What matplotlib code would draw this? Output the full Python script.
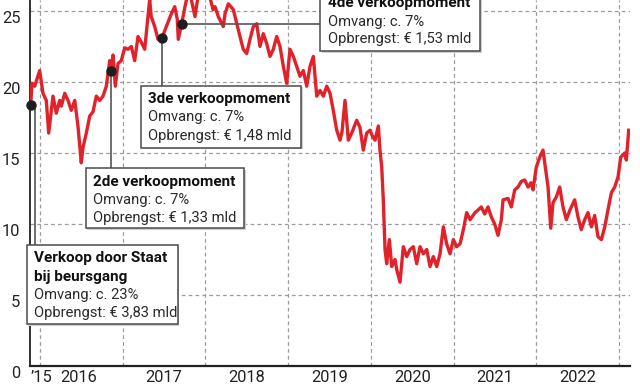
import matplotlib
matplotlib.use('Agg')
import matplotlib.pyplot as plt
from matplotlib.patches import Rectangle

plt.rcParams['font.family'] = ['Roboto', 'DejaVu Sans']

# ---- data (decimal year, koers in euro) ----
years = [2015.888, 2015.903, 2015.936, 2015.996, 2016.036, 2016.076, 2016.105, 2016.157,
         2016.197, 2016.238, 2016.258, 2016.299, 2016.339, 2016.378, 2016.420, 2016.459,
         2016.499, 2016.520, 2016.560, 2016.601, 2016.641, 2016.681, 2016.722, 2016.762,
         2016.802, 2016.843, 2016.862, 2016.883, 2016.911, 2016.943, 2016.983, 2017.024,
         2017.064, 2017.104, 2017.145, 2017.185, 2017.225, 2017.266, 2017.285, 2017.326,
         2017.345, 2017.387, 2017.427, 2017.475, 2017.527, 2017.588, 2017.629, 2017.660,
         2017.672, 2017.713, 2017.753, 2017.790, 2017.826, 2017.874, 2017.910, 2017.971,
         2018.031, 2018.092, 2018.116, 2018.156, 2018.216, 2018.237, 2018.277, 2018.337,
         2018.379, 2018.418, 2018.458, 2018.499, 2018.539, 2018.579, 2018.620, 2018.660,
         2018.700, 2018.741, 2018.781, 2018.821, 2018.862, 2018.902, 2018.942, 2018.983,
         2019.023, 2019.063, 2019.104, 2019.144, 2019.184, 2019.225, 2019.265, 2019.305,
         2019.346, 2019.386, 2019.426, 2019.467, 2019.507, 2019.546, 2019.588, 2019.628,
         2019.652, 2019.688, 2019.728, 2019.769, 2019.829, 2019.869, 2019.909, 2019.950,
         2019.990, 2020.027, 2020.051, 2020.091, 2020.111, 2020.132, 2020.151, 2020.172,
         2020.192, 2020.224, 2020.253, 2020.293, 2020.313, 2020.353, 2020.393, 2020.434,
         2020.474, 2020.514, 2020.555, 2020.595, 2020.635, 2020.676, 2020.716, 2020.756,
         2020.797, 2020.837, 2020.877, 2020.917, 2020.958, 2020.998, 2021.038, 2021.079,
         2021.119, 2021.159, 2021.200, 2021.260, 2021.300, 2021.336, 2021.377, 2021.417,
         2021.457, 2021.498, 2021.538, 2021.578, 2021.599, 2021.659, 2021.699, 2021.740,
         2021.780, 2021.820, 2021.861, 2021.901, 2021.937, 2021.961, 2022.001, 2022.042,
         2022.082, 2022.103, 2022.143, 2022.176, 2022.203, 2022.243, 2022.284, 2022.324,
         2022.364, 2022.409, 2022.465, 2022.505, 2022.545, 2022.586, 2022.626, 2022.667,
         2022.707, 2022.747, 2022.788, 2022.829, 2022.868, 2022.909, 2022.949, 2022.989,
         2023.022, 2023.070, 2023.090, 2023.118]
prices = [18.4, 19.9, 19.7, 20.8, 19.2, 18.7, 16.4, 19.0,
          17.8, 18.7, 18.3, 19.2, 18.7, 18.0, 18.7, 16.9,
          14.3, 15.4, 16.4, 17.6, 17.9, 19.0, 18.7, 19.0,
          19.7, 21.5, 20.8, 21.9, 19.7, 21.3, 21.5, 22.4,
          22.3, 22.5, 21.5, 23.2, 22.8, 22.3, 23.4, 25.8,
          24.6, 23.9, 23.0, 23.1, 23.9, 24.8, 25.3, 24.4,
          23.0, 24.1, 25.3, 26.3, 25.9, 24.6, 26.0, 26.6,
          26.5, 25.1, 25.3, 24.6, 23.9, 24.8, 25.5, 25.1,
          24.1, 23.2, 22.3, 22.0, 23.0, 23.9, 24.1, 22.5,
          23.4, 22.7, 21.8, 22.3, 23.2, 22.5, 21.1, 19.9,
          22.3, 21.8, 21.1, 20.4, 20.8, 19.7, 21.1, 21.8,
          19.0, 19.4, 19.0, 19.7, 19.2, 18.0, 16.6, 15.9,
          16.5, 18.7, 15.9, 16.4, 17.3, 16.8, 15.2, 16.4,
          16.6, 16.1, 15.9, 16.9, 15.2, 14.0, 11.7, 8.2,
          7.2, 8.9, 7.0, 7.5, 6.8, 5.9, 8.4, 7.7,
          8.2, 8.4, 7.2, 8.4, 7.9, 8.2, 7.0, 7.7,
          7.0, 7.9, 9.8, 8.6, 7.9, 8.9, 8.4, 8.6,
          9.6, 10.8, 10.3, 10.8, 11.0, 11.2, 10.7, 11.2,
          10.5, 10.0, 9.2, 10.3, 11.7, 11.8, 11.2, 12.4,
          12.6, 13.0, 13.1, 12.6, 12.9, 12.4, 14.0, 14.7,
          15.2, 14.3, 12.6, 9.7, 11.5, 11.9, 12.6, 11.2,
          10.3, 11.0, 11.7, 10.5, 9.6, 10.3, 10.8, 9.8,
          10.6, 9.1, 8.9, 9.8, 11.0, 12.2, 12.6, 13.3,
          14.7, 15.0, 14.5, 16.6]

sale_years = [2015.888, 2016.862, 2017.475, 2017.713]
sale_prices = [18.4, 20.8, 23.1, 24.1]
sale_titles = [['Verkoop door Staat', 'bij beursgang'], ['2de verkoopmoment'],
               ['3de verkoopmoment'], ['4de verkoopmoment']]
sale_shares = ['c. 23%', 'c. 7%', 'c. 7%', 'c. 7%']
sale_revenue = ['€ 3,83 mld', '€ 1,33 mld', '€ 1,48 mld', '€ 1,53 mld']

ytick_vals = [0, 5, 10, 15, 20, 25]
xtick_pos = [2016.02, 2016.47, 2017.5, 2018.5, 2019.5, 2020.5, 2021.5, 2022.5]
xtick_labels = ['\u201915', '2016', '2017', '2018', '2019', '2020', '2021', '2022']
grid_years = [2016, 2017, 2018, 2019, 2020, 2021, 2022, 2023]

# ---- layout ----
W, H = 640, 384
fig = plt.figure(figsize=(W / 100, H / 100), dpi=100)
ax = fig.add_axes([30 / W, 18 / H, 600 / W, 366 / H])
ax.set_xlim(2015.879, 2023.134)
ax.set_ylim(0, 25.77)

RED = '#e0222a'
ax.plot(years, prices, color=RED, lw=2.4, solid_joinstyle='round', zorder=3)

grid_kw = dict(color='#9c9c9c', lw=0.9, linestyle=(0, (3, 2.5)))
ax.set_yticks(ytick_vals)
ax.set_yticklabels([str(v) for v in ytick_vals])
ax.set_xticks(xtick_pos)
ax.set_xticklabels(xtick_labels)
ax.set_xticks(grid_years, minor=True)
ax.grid(axis='y', which='major', **grid_kw)
ax.grid(axis='x', which='minor', **grid_kw)
ax.tick_params(axis='both', which='both', length=0, labelsize=11.8, colors='#222222')
ax.tick_params(axis='y', pad=7)
ax.tick_params(axis='x', pad=3)
for lab in ax.get_yticklabels():
    lab.set_va('top')

for s in ['top', 'right']:
    ax.spines[s].set_visible(False)
ax.spines['left'].set_color('#222222')
ax.spines['left'].set_linewidth(1.3)
ax.spines['bottom'].set_color('#222222')
ax.spines['bottom'].set_linewidth(1.6)


def px2data(x, y):
    return 2016 + (x - 40) / 82.7, (366 - y) / 14.2


# boxes in pixel coordinates: (left, top, right, bottom), text x, line y's
boxes = [
    ((26.7, 245, 177.7, 324), 34, [258.3, 276.7, 295, 312.7]),
    ((85.7, 168.3, 244, 228.3), 92.7, [181.7, 200, 217.7]),
    ((141.3, 86, 301, 147.7), 148, [99.3, 117.3, 136]),
    ((320, -12, 480, 51), 328, [3.5, 21.7, 39.3]),
]

CONN = '#555555'
for i, ((l, t, r, b), tx, ys) in enumerate(boxes):
    sx, sy = sale_years[i], sale_prices[i]
    if i == 3:
        x_end, _ = px2data(l, t)
        ax.plot([sx, x_end], [sy, sy], color=CONN, lw=1.2, zorder=4, clip_on=False)
    else:
        _, y_end = px2data(l, t)
        off = 0.05 if i == 0 else 0.0
        ax.plot([sx + off, sx + off], [sy, y_end], color=CONN, lw=1.2, zorder=4, clip_on=False)
    # shadow + box
    fig.patches.append(Rectangle(((l + 1.5) / W, 1 - (b + 1.5) / H), (r - l) / W, (b - t) / H,
                                 transform=fig.transFigure, facecolor='#cfcfcf',
                                 edgecolor='none', zorder=5))
    fig.patches.append(Rectangle((l / W, 1 - b / H), (r - l) / W, (b - t) / H,
                                 transform=fig.transFigure, facecolor='white',
                                 edgecolor='#4a4a4a', lw=1.1, zorder=6))
    lines = [(s, 'bold') for s in sale_titles[i]] + \
            [('Omvang: ' + sale_shares[i], 'normal'), ('Opbrengst: ' + sale_revenue[i], 'normal')]
    for (txt, wt), yy in zip(lines, ys):
        fig.text(tx / W, 1 - yy / H, txt, fontsize=11.0 if wt == 'bold' else 10.6,
                 fontweight=wt, color='#111111' if wt == 'bold' else '#2a2a2a',
                 ha='left', va='center', zorder=7)

ax.plot(sale_years, sale_prices, 'o', color='#1e1e1e', markersize=6.5, zorder=8, clip_on=False)

fig.savefig('out.png', dpi=100)
